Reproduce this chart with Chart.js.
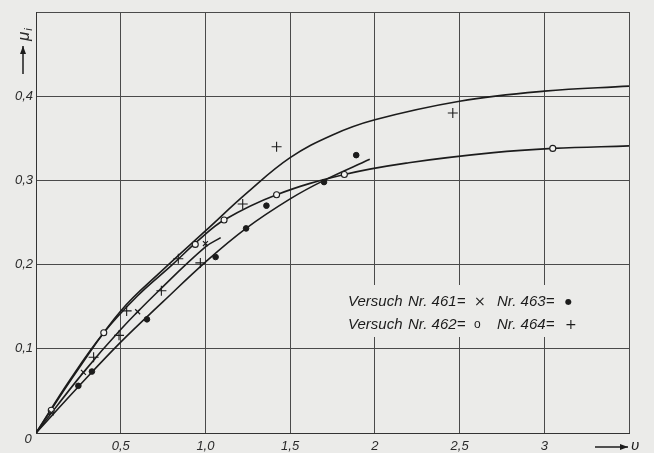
<!DOCTYPE html>
<html>
<head>
<meta charset="utf-8">
<script src="https://cdn.jsdelivr.net/npm/chart.js@4.4.0/dist/chart.umd.min.js"></script>
<style>
  html, body { margin: 0; padding: 0; background: #ebebe9; }
  #wrap { width: 654px; height: 453px; position: relative; }
</style>
</head>
<body>
<div id="wrap"><canvas id="c" width="654" height="453"></canvas></div>
<script>
// ---- Data ----
// Fitted curves
const curve461X = [0, 0.28, 0.5, 0.73, 1.0, 1.09];
const curve461Y = [0, 0.072, 0.123, 0.170, 0.221, 0.232];

const curve462X = [0, 0.2, 0.4, 0.6, 0.8, 0.96, 1.11, 1.42, 1.82, 2.2, 2.7, 3.05, 3.5];
const curve462Y = [0, 0.063, 0.119, 0.163, 0.199, 0.229, 0.253, 0.283, 0.307, 0.321, 0.333, 0.338, 0.341];

const curve463X = [0, 0.25, 0.5, 0.75, 1.0, 1.24, 1.5, 1.7, 1.97];
const curve463Y = [0, 0.055, 0.108, 0.156, 0.203, 0.243, 0.278, 0.300, 0.325];

const curve464X = [0, 0.25, 0.5, 0.75, 1.0, 1.25, 1.5, 1.75, 2.0, 2.5, 3.0, 3.5];
const curve464Y = [0, 0.076, 0.145, 0.194, 0.240, 0.286, 0.327, 0.354, 0.372, 0.394, 0.406, 0.412];

// Measured points
const pts461X = [0.09, 0.28, 0.60, 1.0];
const pts461Y = [0.024, 0.072, 0.144, 0.225];

const pts462X = [0.09, 0.40, 0.94, 1.11, 1.42, 1.82, 3.05];
const pts462Y = [0.027, 0.119, 0.224, 0.253, 0.283, 0.307, 0.338];

const pts463X = [0.25, 0.33, 0.655, 1.06, 1.24, 1.36, 1.70, 1.89];
const pts463Y = [0.056, 0.073, 0.135, 0.209, 0.243, 0.270, 0.298, 0.330];

const pts464X = [0.34, 0.49, 0.535, 0.74, 0.84, 0.97, 1.22, 1.42, 2.46];
const pts464Y = [0.090, 0.116, 0.145, 0.169, 0.207, 0.202, 0.272, 0.340, 0.380];

// Tick labels
const xTickLabels = ['', '0,5', '1,0', '1,5', '2', '2,5', '3', ''];
const yTickLabels = ['', '0,1', '0,2', '0,3', '0,4', ''];

const legendLine1 = ['Versuch', 'Nr. 461=', '\u00d7', 'Nr. 463=', '\u25cf'];
const legendLine2 = ['Versuch', 'Nr. 462=', 'o', 'Nr. 464=', '+'];

// ---- helpers ----
const zip = (xs, ys) => xs.map((x, i) => ({ x: x, y: ys[i] }));
const BG = '#ebebe9';
const INK = '#1c1c1c';

function curve(xs, ys) {
  return {
    data: zip(xs, ys), showLine: true, pointRadius: 0, borderColor: INK,
    borderWidth: 1.6, tension: 0.4, fill: false, order: 2
  };
}
function marks(xs, ys, style, radius, fillColor, bw) {
  return {
    data: zip(xs, ys), showLine: false, pointStyle: style, pointRadius: radius,
    pointBorderColor: INK, pointBackgroundColor: fillColor, pointBorderWidth: bw,
    pointHoverRadius: radius, order: 1
  };
}

const bgPlugin = {
  id: 'bg',
  beforeDraw(chart) {
    const ctx = chart.ctx;
    ctx.save();
    ctx.fillStyle = BG;
    ctx.fillRect(0, 0, chart.width, chart.height);
    ctx.restore();
  },
  beforeDatasetsDraw(chart) {
    const ctx = chart.ctx;
    ctx.save();
    ctx.fillStyle = BG;
    ctx.fillRect(342, 285, 240, 52);
    ctx.restore();
  }
};

function arrow(ctx, x1, y1, x2, y2) {
  ctx.beginPath();
  ctx.moveTo(x1, y1);
  ctx.lineTo(x2, y2);
  ctx.lineWidth = 1.5;
  ctx.strokeStyle = INK;
  ctx.stroke();
  const ang = Math.atan2(y2 - y1, x2 - x1);
  const L = 8, W = 3;
  ctx.beginPath();
  ctx.moveTo(x2, y2);
  ctx.lineTo(x2 - L * Math.cos(ang) + W * Math.sin(ang), y2 - L * Math.sin(ang) - W * Math.cos(ang));
  ctx.lineTo(x2 - L * Math.cos(ang) - W * Math.sin(ang), y2 - L * Math.sin(ang) + W * Math.cos(ang));
  ctx.closePath();
  ctx.fillStyle = INK;
  ctx.fill();
}

const annoPlugin = {
  id: 'anno',
  afterDraw(chart) {
    const ctx = chart.ctx;
    ctx.save();
    ctx.fillStyle = '#2a2a2a';
    ctx.font = 'italic 13px "Liberation Sans"';
    ctx.textAlign = 'center';
    ctx.textBaseline = 'middle';
    ctx.fillText('0', 28, 439);

    // y axis title
    ctx.save();
    ctx.translate(29, 41);
    ctx.rotate(-Math.PI / 2);
    ctx.textAlign = 'left';
    ctx.textBaseline = 'alphabetic';
    ctx.font = 'italic 17px "Liberation Sans"';
    ctx.fillText('\u03bc', 0, 0);
    const w = ctx.measureText('\u03bc').width;
    ctx.font = 'italic 11px "Liberation Sans"';
    ctx.fillText('i', w + 1, 3);
    ctx.restore();
    arrow(ctx, 23, 74, 23, 46);

    // x axis title
    arrow(ctx, 595, 447, 628, 447);
    ctx.font = 'italic 15px "Liberation Sans"';
    ctx.textAlign = 'left';
    ctx.textBaseline = 'middle';
    ctx.fillText('\u03c5', 631, 446);

    // legend text
    const xs = [348, 408, 474, 497, 565];
    const rows = [[legendLine1, 302], [legendLine2, 325]];
    rows.forEach(([items, y]) => {
      items.forEach((t, i) => {
        if (i === 2 || i === 4) {
          if (t === 'o') ctx.font = '12px "Liberation Sans"';
          else if (t === '\u25cf') ctx.font = '8px "DejaVu Sans"';
          else ctx.font = '14px "DejaVu Sans"';
        } else {
          ctx.font = 'italic 15px "Liberation Sans"';
        }
        ctx.fillText(t, xs[i], y);
      });
    });
    ctx.restore();
  }
};

const tickFont = { family: 'Liberation Sans', size: 13, style: 'italic' };

new Chart(document.getElementById('c'), {
  type: 'scatter',
  data: {
    datasets: [
      curve(curve461X, curve461Y),
      curve(curve462X, curve462Y),
      curve(curve463X, curve463Y),
      curve(curve464X, curve464Y),
      marks(pts461X, pts461Y, 'crossRot', 3.5, INK, 1.2),
      marks(pts462X, pts462Y, 'circle', 3, '#f4f4f2', 1.1),
      marks(pts463X, pts463Y, 'circle', 2.8, INK, 1),
      marks(pts464X, pts464Y, 'cross', 5, INK, 1.1)
    ]
  },
  options: {
    responsive: false,
    animation: false,
    events: [],
    layout: { padding: { top: 12, right: 25, left: 0, bottom: 0 } },
    plugins: { legend: { display: false }, tooltip: { enabled: false }, title: { display: false } },
    scales: {
      x: {
        type: 'linear', min: 0, max: 3.5,
        afterFit(scale) { scale.height = 20; },
        ticks: {
          stepSize: 0.5, autoSkip: false, maxRotation: 0, padding: 6,
          color: '#2a2a2a', font: tickFont,
          callback: (v, i) => xTickLabels[i]
        },
        grid: { color: '#4a4a4a', lineWidth: 1, drawTicks: false },
        border: { color: '#333', width: 1 }
      },
      y: {
        type: 'linear', min: 0, max: 0.5,
        afterFit(scale) { scale.width = 36; },
        ticks: {
          stepSize: 0.1, autoSkip: false, padding: 3,
          color: '#2a2a2a', font: tickFont,
          callback: (v, i) => yTickLabels[i]
        },
        grid: { color: '#4a4a4a', lineWidth: 1, drawTicks: false },
        border: { color: '#333', width: 1 }
      }
    }
  },
  plugins: [bgPlugin, annoPlugin]
});
</script>
</body>
</html>
